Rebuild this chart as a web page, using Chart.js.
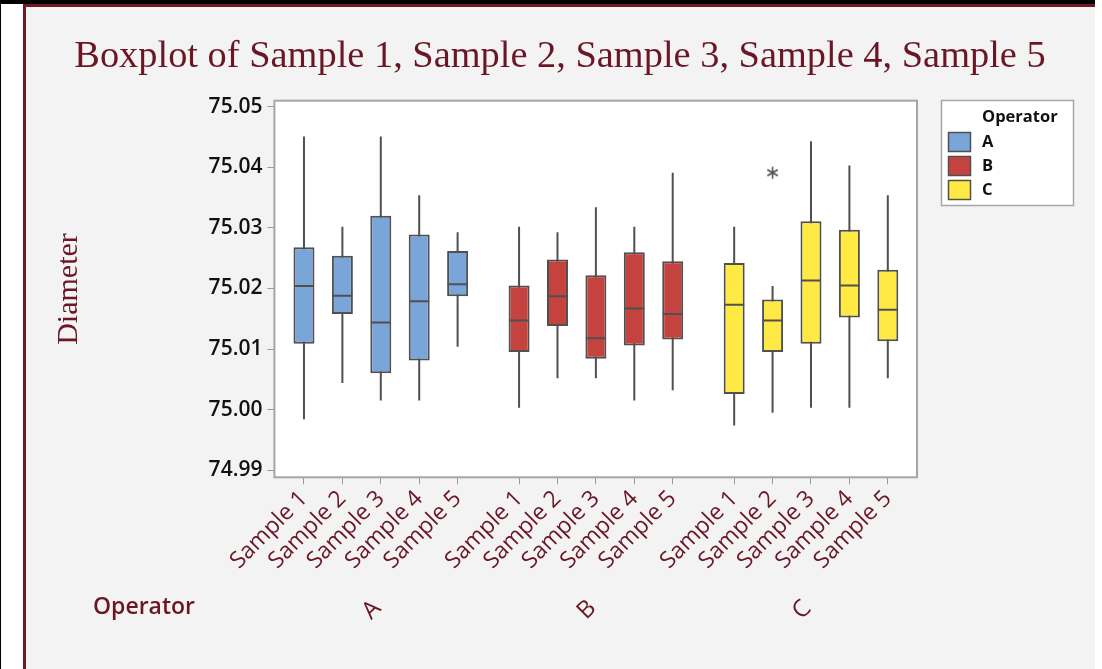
<!DOCTYPE html>
<html>
<head>
<meta charset="utf-8">
<script src="https://cdn.jsdelivr.net/npm/chart.js@4/dist/chart.umd.min.js"></script>
<style>
  html, body { margin: 0; padding: 0; background: #fff; }
  body { width: 1102px; height: 669px; position: relative; overflow: hidden; }
  #topBar { position: absolute; left: 0; top: 0; width: 1095px; height: 4px; background: #000; }
  #leftBar { position: absolute; left: 0; top: 0; width: 1px; height: 669px; background: #000; }
  #panel { position: absolute; left: 23px; top: 4px; width: 1072px; height: 665px; background: #f3f3f3;
           border-left: 3px solid #6e1a22; border-top: 3px solid #6e1a22; box-sizing: border-box; }
  #chart { position: absolute; left: 0; top: 0; }
</style>
</head>
<body>
<div id="topBar"></div>
<div id="leftBar"></div>
<div id="panel"></div>
<canvas id="chart" width="1102" height="669"></canvas>
<script>
// Groups (operators) and the samples measured by each
const groups = ['A', 'B', 'C'];
const samples = ['Sample 1', 'Sample 2', 'Sample 3', 'Sample 4', 'Sample 5'];
const groupColors = ['#7aa5d9', '#c5433f', '#ffe945'];

// Five-number summaries, ordered A1..A5, B1..B5, C1..C5
const whiskerLow = [74.9984, 75.0044, 75.0015, 75.0015, 75.0104,
                    75.0003, 75.0052, 75.0052, 75.0015, 75.0032,
                    74.9974, 74.9995, 75.0003, 75.0003, 75.0052];
const quart1     = [75.0109, 75.0158, 75.0060, 75.0081, 75.0187,
                    75.0095, 75.0138, 75.0084, 75.0106, 75.0116,
                    75.0026, 75.0095, 75.0109, 75.0152, 75.0113];
const medians    = [75.0204, 75.0188, 75.0144, 75.0179, 75.0207,
                    75.0147, 75.0187, 75.0118, 75.0167, 75.0158,
                    75.0173, 75.0147, 75.0213, 75.0205, 75.0165];
const quart3     = [75.0268, 75.0254, 75.0320, 75.0289, 75.0262,
                    75.0205, 75.0248, 75.0222, 75.0260, 75.0245,
                    75.0242, 75.0182, 75.0311, 75.0297, 75.0231];
const whiskerHigh = [75.0451, 75.0302, 75.0451, 75.0354, 75.0293,
                     75.0302, 75.0293, 75.0334, 75.0302, 75.0391,
                     75.0302, 75.0204, 75.0443, 75.0403, 75.0354];
// Outliers: [box index, value]
const outliers = [[11, 75.0391]];

const yTicks = [74.99, 75.00, 75.01, 75.02, 75.03, 75.04, 75.05];

// Layout of the categorical axis: boxes are 1 unit apart, groups separated by a wider gap
const GROUP_STRIDE = 5.6;
const slotOf = (g, s) => 1 + g * GROUP_STRIDE + s;
const boxIndex = [];
groups.forEach((g, gi) => samples.forEach((s, si) => boxIndex.push({ gi, si, x: slotOf(gi, si) })));
const xTickLabels = boxIndex.map(b => samples[b.si]);

const MAROON = '#6b1624';
const EDGE = '#505050';

// Asterisk marker for outliers
function makeAsterisk() {
  const c = document.createElement('canvas');
  c.width = 15; c.height = 15;
  const g = c.getContext('2d');
  g.strokeStyle = EDGE; g.lineWidth = 1.6;
  g.translate(7.5, 7.5);
  for (const a of [0, 60, 120]) {
    const r = a * Math.PI / 180;
    g.beginPath();
    g.moveTo(Math.sin(r) * 6, -Math.cos(r) * 6);
    g.lineTo(-Math.sin(r) * 6, Math.cos(r) * 6);
    g.stroke();
  }
  return c;
}

const plotFrame = {
  id: 'plotFrame',
  beforeDraw(chart) {
    const { ctx, chartArea: a } = chart;
    ctx.save();
    ctx.fillStyle = '#ffffff';
    ctx.fillRect(a.left, a.top, a.right - a.left, a.bottom - a.top);
    ctx.restore();
  },
  beforeDatasetsDraw(chart) {
    const { ctx, chartArea: a } = chart;
    ctx.save();
    ctx.strokeStyle = '#a6a6a6';
    ctx.lineWidth = 2;
    ctx.strokeRect(a.left, a.top, a.right - a.left, a.bottom - a.top);
    ctx.restore();
  }
};

const decorations = {
  id: 'decorations',
  afterDraw(chart) {
    const { ctx } = chart;
    const xs = chart.scales.x;
    ctx.save();
    // Title
    ctx.fillStyle = MAROON;
    ctx.font = '38.4px "Liberation Serif"';
    ctx.textAlign = 'center';
    ctx.textBaseline = 'alphabetic';
    ctx.fillText('Boxplot of Sample 1, Sample 2, Sample 3, Sample 4, Sample 5', 560, 67);

    // Group axis caption and group labels
    ctx.font = '600 23px "Open Sans"';
    ctx.textAlign = 'left';
    ctx.textBaseline = 'middle';
    ctx.fillText('Operator', 93, 607);
    ctx.font = '500 24px "Open Sans"';
    groups.forEach((g, gi) => {
      const cx = xs.getPixelForValue(slotOf(gi, 2)) - 9;
      ctx.save();
      ctx.translate(cx, 610);
      ctx.rotate(-Math.PI / 4);
      ctx.textAlign = 'center';
      ctx.fillText(g, 0, 0);
      ctx.restore();
    });

    // Legend
    const lx = 941.5, ly = 100.5, lw = 132, lh = 105;
    ctx.fillStyle = '#ffffff';
    ctx.fillRect(lx, ly, lw, lh);
    ctx.strokeStyle = '#a6a6a6';
    ctx.lineWidth = 1.5;
    ctx.strokeRect(lx, ly, lw, lh);
    ctx.fillStyle = '#111';
    ctx.font = 'bold 16.5px "Open Sans"';
    ctx.textAlign = 'left';
    ctx.textBaseline = 'middle';
    ctx.fillText('Operator', 982, 117);
    groups.forEach((g, gi) => {
      const y = 132.5 + gi * 24;
      ctx.fillStyle = groupColors[gi];
      ctx.fillRect(948.5, y, 22, 19);
      ctx.strokeStyle = EDGE;
      ctx.lineWidth = 1.5;
      ctx.strokeRect(948.5, y, 22, 19);
      ctx.fillStyle = '#111';
      ctx.fillText(g, 982, y + 9.5);
    });
    ctx.restore();
  }
};

function build() {
  const boxColors = boxIndex.map(b => groupColors[b.gi]);
  new Chart(document.getElementById('chart'), {
    type: 'bar',
    data: {
      datasets: [
        {
          type: 'scatter',
          label: 'Median',
          data: boxIndex.map((b, i) => ({ x: b.x, y: medians[i] })),
          pointStyle: 'line',
          pointRadius: 10,
          pointBorderColor: EDGE,
          pointBorderWidth: 2,
          order: 0
        },
        {
          type: 'scatter',
          label: 'Outlier',
          data: outliers.map(([i, v]) => ({ x: boxIndex[i].x, y: v })),
          pointStyle: makeAsterisk(),
          order: 0
        },
        {
          type: 'bar',
          label: 'Box',
          data: boxIndex.map((b, i) => ({ x: b.x, y: [quart1[i], quart3[i]] })),
          backgroundColor: boxColors,
          borderColor: EDGE,
          borderWidth: 2,
          borderSkipped: false,
          grouped: false,
          maxBarThickness: 21,
          order: 1
        },
        {
          type: 'bar',
          label: 'Whisker',
          data: boxIndex.map((b, i) => ({ x: b.x, y: [whiskerLow[i], whiskerHigh[i]] })),
          backgroundColor: EDGE,
          borderWidth: 0,
          grouped: false,
          maxBarThickness: 2,
          order: 2
        }
      ]
    },
    options: {
      responsive: false,
      animation: false,
      devicePixelRatio: 1,
      events: [],
      layout: { padding: { left: 40, top: 100.7, right: 185, bottom: 0 } },
      plugins: { legend: { display: false }, tooltip: { enabled: false }, title: { display: false } },
      scales: {
        x: {
          type: 'linear',
          min: 0.23,
          max: 16.96,
          offset: false,
          afterBuildTicks: s => { s.ticks = boxIndex.map(b => ({ value: b.x })); },
          afterFit: s => { s.height = 669 - 477.3; },
          ticks: {
            autoSkip: false,
            minRotation: 45,
            maxRotation: 45,
            padding: 1,
            color: MAROON,
            font: { family: 'Open Sans', size: 23, weight: '500' },
            callback: (v, i) => xTickLabels[i]
          },
          grid: { display: true, drawOnChartArea: false, drawTicks: true, tickLength: 7, color: '#9a9a9a', offset: false },
          border: { display: false }
        },
        y: {
          type: 'linear',
          min: 74.98884,
          max: 75.05099,
          afterBuildTicks: s => { s.ticks = yTicks.map(v => ({ value: v })); },
          afterFit: s => { s.width = 274.4 - 40; },
          ticks: {
            padding: 5,
            color: '#111',
            font: { family: 'Open Sans', size: 21, weight: '600' },
            callback: v => Number(v).toFixed(2)
          },
          grid: { display: true, drawOnChartArea: false, drawTicks: true, tickLength: 7, color: '#9a9a9a' },
          border: { display: false },
          title: {
            display: true,
            text: 'Diameter',
            color: MAROON,
            font: { family: 'Liberation Serif', size: 30 },
            padding: { top: 11, bottom: 0 }
          }
        }
      }
    },
    plugins: [plotFrame, decorations]
  });
}

const fontLoads = [
  '38.4px "Liberation Serif"', '30px "Liberation Serif"',
  '600 21px "Open Sans"', '500 23px "Open Sans"', '600 23px "Open Sans"', 'bold 16.5px "Open Sans"'
].map(f => document.fonts.load(f).catch(() => null));
Promise.all(fontLoads).then(build, build);
</script>
</body>
</html>
